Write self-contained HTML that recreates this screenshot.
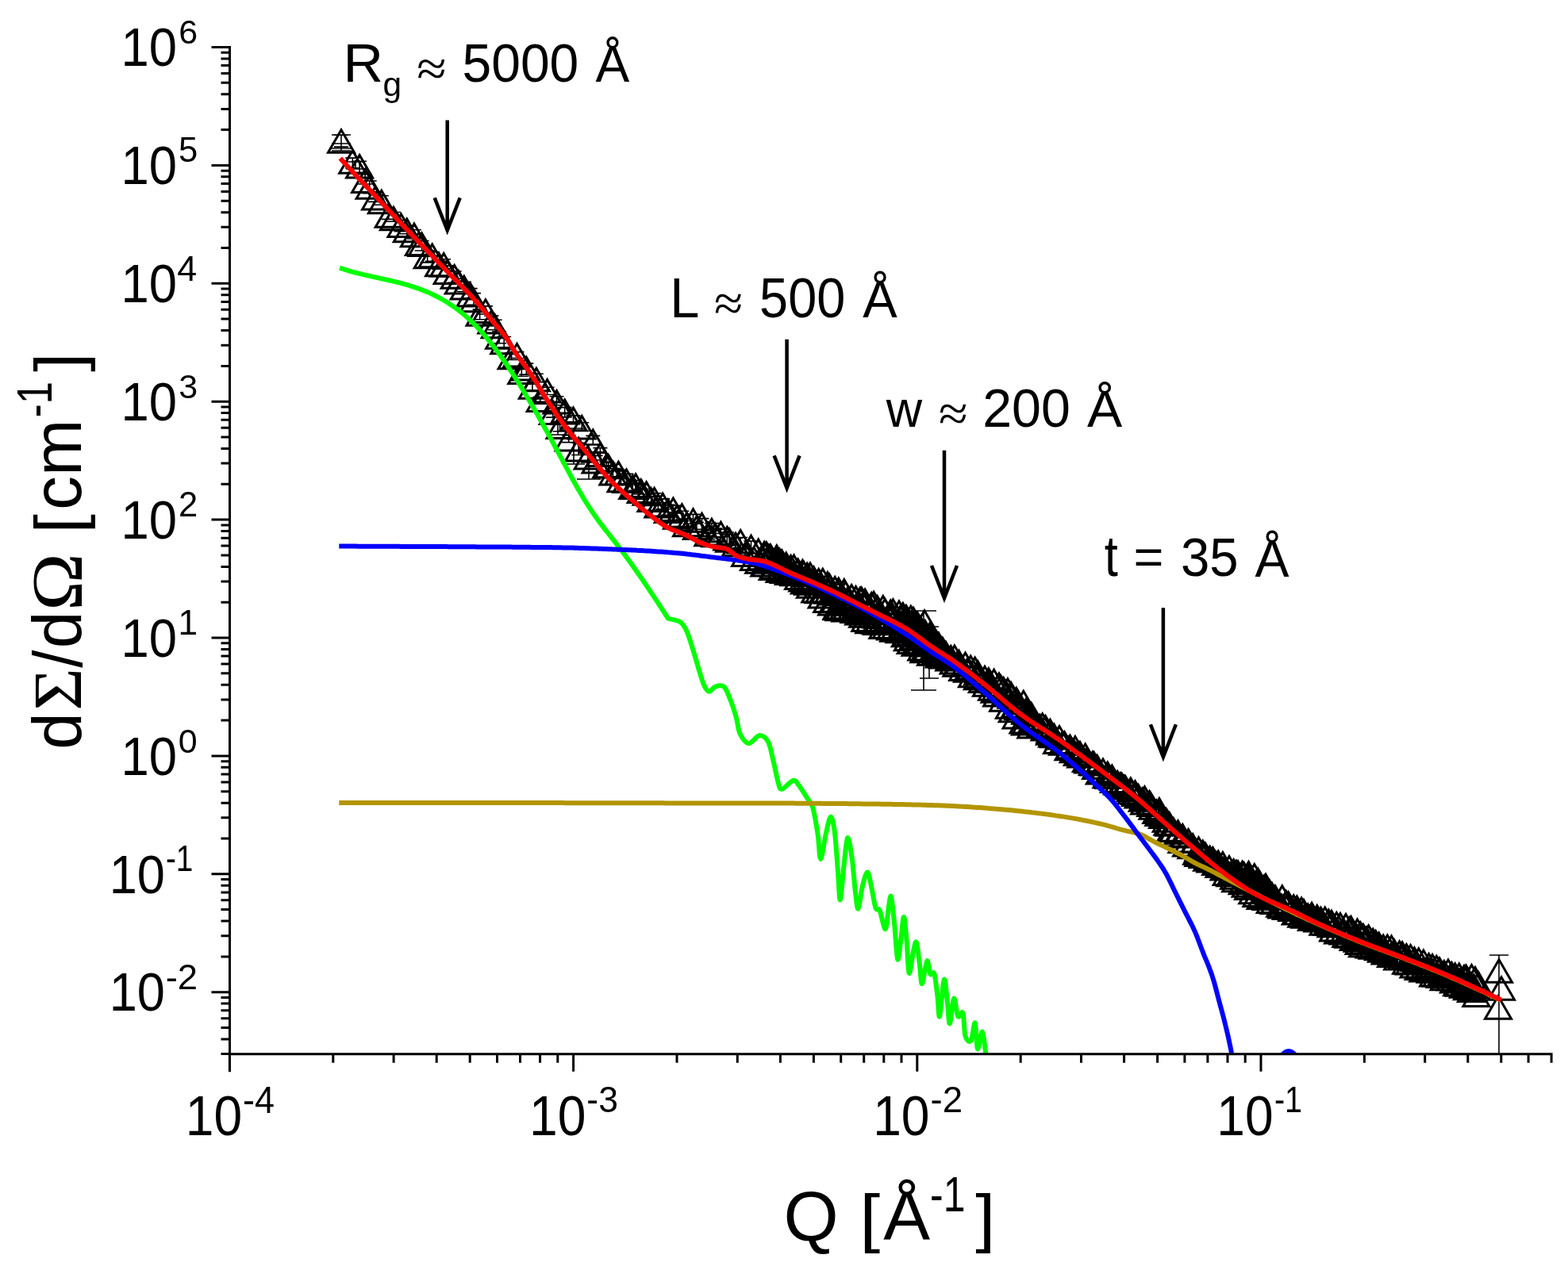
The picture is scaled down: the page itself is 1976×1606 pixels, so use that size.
<!DOCTYPE html><html><head><meta charset="utf-8"><style>html,body{margin:0;padding:0;background:#fff;overflow:hidden}svg{display:block}text{font-family:"Liberation Sans",Arial,sans-serif;fill:#000}</style></head><body>
<svg xmlns="http://www.w3.org/2000/svg" width="1976" height="1606" viewBox="0 0 1976 1606">
<rect width="1976" height="1606" fill="#fff"/>
<defs><clipPath id="pc"><rect x="289.5" y="40" width="1665.6" height="1287.8"/></clipPath></defs>
<g clip-path="url(#pc)"><path d="M430 170V187M418 170h24M418 187h24M430 181V190M418 181h24M418 190h24M448 204V213M436 204h24M436 213h24M703 526V548M689 526h28M689 548h28M723 540V585M709 540h28M709 585h28M742 560V604M727 560h30M727 604h30M1164 770V870M1148 770h32M1148 870h32M1171 790V855M1159 790h24M1159 855h24M1889 1204V1345M1877 1204h24M1877 1345h24M430 170.3V185.1M421 170.3h18M421 185.1h18M444.3 199.1V211.9M435.3 199.1h18M435.3 211.9h18M453.1 203.3V217.6M444.1 203.3h18M444.1 217.6h18M460.1 219.6V232M451.1 219.6h18M451.1 232h18M465.7 228V243.6M456.7 228h18M456.7 243.6h18M473.1 245.3V254.4M464.1 245.3h18M464.1 254.4h18M480.8 246.7V258.3M471.8 246.7h18M471.8 258.3h18M489.7 263.5V276.4M480.7 263.5h18M480.7 276.4h18M496 267.5V279.3M487 267.5h18M487 279.3h18M505.5 277.7V291.8M496.5 277.7h18M496.5 291.8h18M512.8 285.4V294.7M503.8 285.4h18M503.8 294.7h18M521.9 289.8V301M512.9 289.8h18M512.9 301h18M527.9 303V311.1M518.9 303h18M518.9 311.1h18M531.6 303.5V316M522.6 303.5h18M522.6 316h18M538.7 316V330.9M529.7 316h18M529.7 330.9h18M544.7 317.6V329.3M535.7 317.6h18M535.7 329.3h18M553.1 329V339.2M544.1 329h18M544.1 339.2h18M559.2 326.7V338.7M550.2 326.7h18M550.2 338.7h18M563.7 334.9V349M554.7 334.9h18M554.7 349h18M572.7 342V356.3M563.7 342h18M563.7 356.3h18M577.8 351.3V363.8M568.8 351.3h18M568.8 363.8h18M584.8 355.4V367.5M575.8 355.4h18M575.8 367.5h18M592.7 363.6V375.9M583.7 363.6h18M583.7 375.9h18M597 369.6V384.4M588 369.6h18M588 384.4h18M604.6 390.1V402.8M595.6 390.1h18M595.6 402.8h18M611.9 385.9V396M602.9 385.9h18M602.9 396h18M619.4 398.1V409.1M610.4 398.1h18M610.4 409.1h18M623.7 403.3V415.7M614.7 403.3h18M614.7 415.7h18M629.1 417.7V432.8M620.1 417.7h18M620.1 432.8h18M635.2 424.5V437.8M626.2 424.5h18M626.2 437.8h18M644.6 445V453.5M635.6 445h18M635.6 453.5h18M651.5 443.6V451.5M642.5 443.6h18M642.5 451.5h18M657.3 462V474.3M648.3 462h18M648.3 474.3h18M663.3 458.1V472.1M654.3 458.1h18M654.3 472.1h18M670.9 483.2V492M661.9 483.2h18M661.9 492h18M675.9 471.2V481.6M666.9 471.2h18M666.9 481.6h18M680.7 500.3V509.1M671.7 500.3h18M671.7 509.1h18M689.6 488.2V497.5M680.6 488.2h18M680.6 497.5h18M696.8 515.2V526.3M687.8 515.2h18M687.8 526.3h18M701.5 499.8V510.7M692.5 499.8h18M692.5 510.7h18M705.6 531.2V543.7M696.6 531.2h18M696.6 543.7h18M711.7 513.6V525.9M702.7 513.6h18M702.7 525.9h18M716.7 548.6V557.6M707.7 548.6h18M707.7 557.6h18M722.5 523.9V534.6M713.5 523.9h18M713.5 534.6h18M729.1 558.3V573.5M720.1 558.3h18M720.1 573.5h18M733.3 532.8V543.2M724.3 532.8h18M724.3 543.2h18M740.7 572.6V582.9M731.7 572.6h18M731.7 582.9h18M747.3 549.4V560.9M738.3 549.4h18M738.3 560.9h18M750.6 574.4V586.8M741.6 574.4h18M741.6 586.8h18M756.4 564.6V580M747.4 564.6h18M747.4 580h18M764.3 582.1V594.9M755.3 582.1h18M755.3 594.9h18M766.7 583.5V593.4M757.7 583.5h18M757.7 593.4h18M772.4 590.6V600.8M763.4 590.6h18M763.4 600.8h18M779.4 592.2V603.4M770.4 592.2h18M770.4 603.4h18M782.5 601.4V611.2M773.5 601.4h18M773.5 611.2h18M789.5 597.4V609.9M780.5 597.4h18M780.5 609.9h18M797.3 609.3V620.4M788.3 609.3h18M788.3 620.4h18M801.1 605.6V618.3M792.1 605.6h18M792.1 618.3h18M807.7 611.1V623M798.7 611.1h18M798.7 623h18M814.6 616.5V626.5M805.6 616.5h18M805.6 626.5h18M820.5 625.9V637.5M811.5 625.9h18M811.5 637.5h18M824.6 621.7V636.2M815.6 621.7h18M815.6 636.2h18M829.4 633.6V644.9M820.4 633.6h18M820.4 644.9h18M835.2 628.9V641.9M826.2 628.9h18M826.2 641.9h18M841.8 636.4V649.3M832.8 636.4h18M832.8 649.3h18M848.4 637.2V645.8M839.4 637.2h18M839.4 645.8h18M853 646.9V655.2M844 646.9h18M844 655.2h18M859.4 644.3V656.7M850.4 644.3h18M850.4 656.7h18M865.1 654V668.7M856.1 654h18M856.1 668.7h18M873.5 648.4V660.3M864.5 648.4h18M864.5 660.3h18M878 658.5V670.5M869 658.5h18M869 670.5h18M884.5 653.6V667.2M875.5 653.6h18M875.5 667.2h18M892.4 668.1V679.7M883.4 668.1h18M883.4 679.7h18M896.9 659.6V672.5M887.9 659.6h18M887.9 672.5h18M901.3 666.1V677.5M892.3 666.1h18M892.3 677.5h18M908.4 667.3V676.8M899.4 667.3h18M899.4 676.8h18M916.3 671V686.4M907.3 671h18M907.3 686.4h18M919.1 673.3V685.6M910.1 673.3h18M910.1 685.6h18M927.1 678.1V691.1M918.1 678.1h18M918.1 691.1h18M933.2 677.5V690.2M924.2 677.5h18M924.2 690.2h18M939.1 692V705.6M930.1 692h18M930.1 705.6h18M946.5 682.1V697.4M937.5 682.1h18M937.5 697.4h18" fill="none" stroke="#000" stroke-width="1.6"/></g>
<path d="M430 163.7L446.5 192.3H413.5ZM444.3 189.7L460.8 218.3H427.8ZM453.1 195.5L469.6 224.1H436.6ZM460.1 213.8L476.6 242.4H443.6ZM465.7 221.7L482.2 250.3H449.2ZM473.1 235.3L489.6 263.9H456.6ZM480.8 240.2L497.3 268.8H464.3ZM489.7 257.7L506.2 286.3H473.2ZM496 261.3L512.5 289.8H479.5ZM505.5 269.9L522 298.5H489ZM512.8 276.1L529.3 304.7H496.3ZM521.9 282.1L538.4 310.7H505.4ZM527.9 292.9L544.4 321.5H511.4ZM531.6 294L548.1 322.6H515.1ZM538.7 309.2L555.2 337.7H522.2ZM544.7 308.1L561.2 336.7H528.2ZM553.1 319.3L569.6 347.8H536.6ZM559.2 319.6L575.7 348.2H542.7ZM563.7 329L580.2 357.6H547.2ZM572.7 334.6L589.2 363.2H556.2ZM577.8 341.6L594.3 370.1H561.3ZM584.8 348.3L601.3 376.9H568.3ZM592.7 357.3L609.2 385.9H576.2ZM597 364.3L613.5 392.8H580.5ZM604.6 381.6L621.1 410.2H588.1ZM611.9 377.8L628.4 406.4H595.4ZM619.4 391.6L635.9 420.1H602.9ZM623.7 397.1L640.2 425.7H607.2ZM629.1 410.6L645.6 439.2H612.6ZM635.2 417.2L651.7 445.8H618.7ZM644.6 436.2L661.1 464.8H628.1ZM651.5 433.5L668 462.1H635ZM657.3 454.8L673.8 483.4H640.8ZM663.3 450.3L679.8 478.9H646.8ZM670.9 473.6L687.4 502.2H654.4ZM675.9 464.2L692.4 492.7H659.4ZM680.7 490.1L697.2 518.6H664.2ZM689.6 478.5L706.1 507.1H673.1ZM696.8 506.1L713.3 534.6H680.3ZM701.5 492.4L718 521H685ZM705.6 524L722.1 552.6H689.1ZM711.7 504L728.2 532.5H695.2ZM716.7 539.6L733.2 568.1H700.2ZM722.5 514.1L739 542.7H706ZM729.1 552.3L745.6 580.9H712.6ZM733.3 524.5L749.8 553.1H716.8ZM740.7 562.4L757.2 591H724.2ZM747.3 541.9L763.8 570.5H730.8ZM750.6 567.3L767.1 595.9H734.1ZM756.4 559L772.9 587.6H739.9ZM764.3 573.1L780.8 601.7H747.8ZM766.7 573.4L783.2 602H750.2ZM772.4 582.3L788.9 610.9H755.9ZM779.4 582.2L795.9 610.8H762.9ZM782.5 591.2L799 619.7H766ZM789.5 591.9L806 620.4H773ZM797.3 600L813.8 628.6H780.8ZM801.1 597.8L817.6 626.4H784.6ZM807.7 604.8L824.2 633.4H791.2ZM814.6 607.7L831.1 636.3H798.1ZM820.5 615.8L837 644.4H804ZM824.6 615.3L841.1 643.9H808.1ZM829.4 623.4L845.9 651.9H812.9ZM835.2 622.3L851.7 650.9H818.7ZM841.8 629.8L858.3 658.4H825.3ZM848.4 628L864.9 656.6H831.9ZM853 637.7L869.5 666.3H836.5ZM859.4 635.7L875.9 664.2H842.9ZM865.1 647.2L881.6 675.7H848.6ZM873.5 641.7L890 670.3H857ZM878 651L894.5 679.6H861.5ZM884.5 647.3L901 675.9H868ZM892.4 659.2L908.9 687.8H875.9ZM896.9 654.2L913.4 682.7H880.4ZM901.3 660.2L917.8 688.8H884.8ZM908.4 658.3L924.9 686.9H891.9ZM916.3 664.4L932.8 693H899.8ZM919.1 666.7L935.6 695.3H902.6ZM927.1 672.2L943.6 700.8H910.6ZM933.2 668.4L949.7 697H916.7ZM939.1 684.8L955.6 713.4H922.6ZM946.5 675.2L963 703.8H930ZM950 689.9L966.5 718.4H933.5ZM955.7 680.1L972.2 708.7H939.2ZM959.6 689.1L976.1 717.7H943.1ZM956.3 693.7L972.8 722.3H939.8ZM963.2 683.2L979.7 711.8H946.7ZM965.9 691.4L982.4 719.9H949.4ZM963.3 697.5L979.8 726.1H946.8ZM965.9 683.7L982.4 712.2H949.4ZM968.9 687.2L985.4 715.8H952.4ZM965.1 697.5L981.6 726.1H948.6ZM971 686.7L987.5 715.3H954.5ZM976.3 692.6L992.8 721.2H959.8ZM973.7 702.1L990.2 730.6H957.2ZM978.8 687.8L995.3 716.3H962.3ZM978.4 692.9L994.9 721.5H961.9ZM975.8 700.7L992.3 729.3H959.3ZM982.5 692.3L999 720.8H966ZM985.9 697L1002.4 725.6H969.4ZM982.6 704.8L999.1 733.4H966.1ZM985.3 693.8L1001.8 722.4H968.8ZM991.1 701.8L1007.6 730.4H974.6ZM988 705.8L1004.5 734.4H971.5ZM990.7 697.1L1007.2 725.6H974.2ZM993.8 704.5L1010.3 733H977.3ZM993.9 707.8L1010.4 736.4H977.4ZM996.6 700.4L1013.1 729H980.1ZM1000.4 709.2L1016.9 737.8H983.9ZM1000.5 699.9L1017 728.5H984ZM1006.1 714.1L1022.6 742.6H989.6ZM1005.6 705.1L1022.1 733.7H989.1ZM1011.4 716.3L1027.9 744.9H994.9ZM1011.4 706.3L1027.9 734.9H994.9ZM1013 708.6L1029.5 737.1H996.5ZM1013.9 719.4L1030.4 748H997.4ZM1017.1 710.2L1033.6 738.7H1000.6ZM1019.2 718.1L1035.7 746.7H1002.7ZM1018.3 720.7L1034.8 749.3H1001.8ZM1021 709.9L1037.5 738.5H1004.5ZM1023.5 718.5L1040 747.1H1007ZM1021 724.6L1037.5 753.2H1004.5ZM1025.5 714.7L1042 743.3H1009ZM1028.9 720.6L1045.4 749.1H1012.4ZM1027.3 730.3L1043.8 758.9H1010.8ZM1031.7 717.5L1048.2 746.1H1015.2ZM1034.5 724.7L1051 753.3H1018ZM1032.1 731.2L1048.6 759.8H1015.6ZM1036.8 717.3L1053.3 745.9H1020.3ZM1037.5 730.4L1054 759H1021ZM1035.7 737.4L1052.2 766H1019.2ZM1042.9 721.5L1059.4 750.1H1026.4ZM1043.8 731.7L1060.3 760.3H1027.3ZM1042.2 743L1058.7 771.6H1025.7ZM1045.4 724.2L1061.9 752.8H1028.9ZM1048.5 733.3L1065 761.9H1032ZM1048.1 746.3L1064.6 774.9H1031.6ZM1052.2 727.5L1068.7 756.1H1035.7ZM1056.1 734.1L1072.6 762.6H1039.6ZM1052.5 742.6L1069 771.2H1036ZM1054.5 751.4L1071 780H1038ZM1056.8 729.1L1073.3 757.7H1040.3ZM1059.4 743.9L1075.9 772.4H1042.9ZM1057.8 753.2L1074.3 781.8H1041.3ZM1063.8 730.5L1080.3 759.1H1047.3ZM1064.7 745.6L1081.2 774.2H1048.2ZM1063.4 751.3L1079.9 779.8H1046.9ZM1065.5 733.7L1082 762.3H1049ZM1067.8 741.7L1084.3 770.3H1051.3ZM1065.3 754.4L1081.8 783H1048.8ZM1073.1 737.4L1089.6 766H1056.6ZM1073.1 747L1089.6 775.6H1056.6ZM1072.6 753.3L1089.1 781.9H1056.1ZM1078.5 739.6L1095 768.2H1062ZM1078.4 750.5L1094.9 779.1H1061.9ZM1076.6 755.9L1093.1 784.5H1060.1ZM1084 741L1100.5 769.6H1067.5ZM1083.1 748.8L1099.6 777.4H1066.6ZM1082.1 758.3L1098.6 786.9H1065.6ZM1085.8 740.9L1102.3 769.4H1069.3ZM1090.4 747.9L1106.9 776.5H1073.9ZM1087.2 761.8L1103.7 790.3H1070.7ZM1090.1 743L1106.6 771.5H1073.6ZM1095 754.4L1111.5 783H1078.5ZM1090.3 766.9L1106.8 795.5H1073.8ZM1098.2 747.6L1114.7 776.1H1081.7ZM1097.9 755L1114.4 783.5H1081.4ZM1095.2 769.1L1111.7 797.7H1078.7ZM1101.1 746.3L1117.6 774.8H1084.6ZM1104.2 762.5L1120.7 791.1H1087.7ZM1103.3 769.8L1119.8 798.3H1086.8ZM1105.6 751.5L1122.1 780H1089.1ZM1109.8 762.8L1126.3 791.4H1093.3ZM1105.4 770.9L1121.9 799.5H1088.9ZM1112.8 751.5L1129.3 780.1H1096.3ZM1112.8 766.7L1129.3 795.3H1096.3ZM1112.5 775.8L1129 804.4H1096ZM1115.3 755.2L1131.8 783.8H1098.8ZM1117.8 768.1L1134.3 796.6H1101.3ZM1116.8 775.9L1133.3 804.5H1100.3ZM1122.2 757.1L1138.7 785.7H1105.7ZM1123.6 764L1140.1 792.6H1107.1ZM1122.1 777.4L1138.6 806H1105.6ZM1125.4 755.7L1141.9 784.3H1108.9ZM1127.7 766.4L1144.2 795H1111.2ZM1126.2 779.7L1142.7 808.2H1109.7ZM1133 757.9L1149.5 786.5H1116.5ZM1134.5 764.3L1151 792.9H1118ZM1131.4 771.1L1147.9 799.7H1114.9ZM1133.5 781.1L1150 809.7H1117ZM1137.9 760.6L1154.4 789.2H1121.4ZM1138.3 768.9L1154.8 797.5H1121.8ZM1138.7 774.6L1155.2 803.2H1122.2ZM1140.8 786.2L1157.3 814.8H1124.3ZM1142 763.4L1158.5 792H1125.5ZM1144.1 771.4L1160.6 800H1127.6ZM1142.8 784.5L1159.3 813.1H1126.3ZM1143.9 791.2L1160.4 819.8H1127.4ZM1147.8 764.3L1164.3 792.9H1131.3ZM1149.1 772.6L1165.6 801.2H1132.6ZM1145.2 780.9L1161.7 809.5H1128.7ZM1147.8 794.9L1164.3 823.5H1131.3ZM1151 766.2L1167.5 794.7H1134.5ZM1152.8 780.6L1169.3 809.2H1136.3ZM1153.5 789.6L1170 818.2H1137ZM1153.6 797.6L1170.1 826.2H1137.1ZM1156.2 772.3L1172.7 800.9H1139.7ZM1158.1 782.3L1174.6 810.9H1141.6ZM1156.1 796.7L1172.6 825.3H1139.6ZM1161.4 803.5L1177.9 832H1144.9ZM1161 779.4L1177.5 807.9H1144.5ZM1163.7 785.9L1180.2 814.5H1147.2ZM1160 795.7L1176.5 824.3H1143.5ZM1164.4 806.3L1180.9 834.8H1147.9ZM1165.8 782.5L1182.3 811.1H1149.3ZM1167.5 789L1184 817.6H1151ZM1165.4 798.5L1181.9 827.1H1148.9ZM1167.7 805.8L1184.2 834.3H1151.2ZM1171.2 786.4L1187.7 815H1154.7ZM1174.8 798.5L1191.3 827.1H1158.3ZM1173 809.7L1189.5 838.3H1156.5ZM1177.9 794L1194.4 822.6H1161.4ZM1179.1 800.1L1195.6 828.7H1162.6ZM1178.9 809.1L1195.4 837.7H1162.4ZM1182.9 798.1L1199.4 826.7H1166.4ZM1182.7 807.4L1199.2 836H1166.2ZM1183.6 812.4L1200.1 841H1167.1ZM1187.9 804.2L1204.4 832.7H1171.4ZM1188.1 813.4L1204.6 842H1171.6ZM1192 809.6L1208.5 838.2H1175.5ZM1196.2 816.4L1212.7 844.9H1179.7ZM1198.3 814.4L1214.8 843H1181.8ZM1201.7 820.4L1218.2 849H1185.2ZM1202.9 814L1219.4 842.6H1186.4ZM1205.5 823.7L1222 852.3H1189ZM1208.4 820.3L1224.9 848.9H1191.9ZM1213.2 829L1229.7 857.6H1196.7ZM1216.5 823L1233 851.5H1200ZM1219 830.7L1235.5 859.3H1202.5ZM1223.2 827.1L1239.7 855.7H1206.7ZM1225 837.1L1241.5 865.7H1208.5ZM1228.6 829.1L1245.1 857.7H1212.1ZM1231.9 840.1L1248.4 868.7H1215.4ZM1232.3 833.8L1248.8 862.4H1215.8ZM1237.9 844L1254.4 872.5H1221.4ZM1241 840.3L1257.5 868.9H1224.5ZM1243 848.7L1259.5 877.3H1226.5ZM1245.9 842.8L1262.4 871.4H1229.4ZM1250.1 853.8L1266.6 882.3H1233.6ZM1252.6 844.3L1269.1 872.9H1236.1ZM1253.6 856.6L1270.1 885.2H1237.1ZM1259 849.1L1275.5 877.6H1242.5ZM1261.3 852.1L1277.8 880.7H1244.8ZM1256.2 861.3L1272.7 889.9H1239.7ZM1264.7 854.5L1281.2 883.1H1248.2ZM1267.7 859.1L1284.2 887.6H1251.2ZM1264.1 867.6L1280.6 896.2H1247.6ZM1269.9 855.7L1286.4 884.3H1253.4ZM1274.6 863.7L1291.1 892.2H1258.1ZM1271.9 876.7L1288.4 905.2H1255.4ZM1274.1 860.5L1290.6 889.1H1257.6ZM1280.3 875.2L1296.8 903.7H1263.8ZM1275.8 881.2L1292.3 909.8H1259.3ZM1280.8 867.2L1297.3 895.8H1264.3ZM1283.8 878L1300.3 906.6H1267.3ZM1280.6 889.4L1297.1 918H1264.1ZM1289.8 871.2L1306.3 899.8H1273.3ZM1292.3 883.7L1308.8 912.3H1275.8ZM1289.5 895.5L1306 924H1273ZM1292.9 881.5L1309.4 910.1H1276.4ZM1296.9 884.8L1313.4 913.4H1280.4ZM1292 897.3L1308.5 925.9H1275.5ZM1299.8 886.4L1316.3 915H1283.3ZM1301.6 892.4L1318.1 920.9H1285.1ZM1299.3 901.4L1315.8 930H1282.8ZM1304 895.5L1320.5 924.1H1287.5ZM1310.4 901.2L1326.9 929.8H1293.9ZM1313.7 899.8L1330.2 928.4H1297.2ZM1316.6 904.6L1333.1 933.1H1300.1ZM1317.5 902.6L1334 931.2H1301ZM1323 909.8L1339.5 938.3H1306.5ZM1323.4 907.2L1339.9 935.7H1306.9ZM1326.1 912.6L1342.6 941.1H1309.6ZM1328.4 913.2L1344.9 941.8H1311.9ZM1332.1 921.1L1348.6 949.6H1315.6ZM1335 915.4L1351.5 944H1318.5ZM1339 922.7L1355.5 951.3H1322.5ZM1341.5 922.7L1358 951.3H1325ZM1346.5 929.2L1363 957.8H1330ZM1348.5 927.2L1365 955.8H1332ZM1352.8 932.2L1369.3 960.8H1336.3ZM1354.9 928.4L1371.4 956.9H1338.4ZM1357.9 935.8L1374.4 964.4H1341.4ZM1361 935.4L1377.5 964H1344.5ZM1362.1 938.4L1378.6 966.9H1345.6ZM1367.7 938.1L1384.2 966.7H1351.2ZM1368.9 943.9L1385.4 972.5H1352.4ZM1371.2 945.3L1387.7 973.9H1354.7ZM1376.9 948L1393.4 976.6H1360.4ZM1378.6 948.4L1395.1 977H1362.1ZM1381.2 952.9L1397.7 981.5H1364.7ZM1382.7 952.6L1399.2 981.2H1366.2ZM1385.8 959.3L1402.3 987.9H1369.3ZM1390 957.1L1406.5 985.7H1373.5ZM1394.6 964.1L1411.1 992.7H1378.1ZM1395.8 961L1412.3 989.6H1379.3ZM1397.8 964.9L1414.3 993.5H1381.3ZM1401.4 965L1417.9 993.6H1384.9ZM1404 970L1420.5 998.5H1387.5ZM1408.3 972.4L1424.8 1001H1391.8ZM1412 974.8L1428.5 1003.4H1395.5ZM1413.7 975.2L1430.2 1003.7H1397.2ZM1416.5 978.1L1433 1006.7H1400ZM1418.2 978.5L1434.7 1007H1401.7ZM1424.9 980.9L1441.4 1009.5H1408.4ZM1426 984.2L1442.5 1012.8H1409.5ZM1430.5 984.8L1447 1013.4H1414ZM1431.1 987L1447.6 1015.6H1414.6ZM1434.6 989.4L1451.1 1018H1418.1ZM1439.8 993.8L1456.3 1022.3H1423.3ZM1442.5 991.7L1459 1020.3H1426ZM1442.1 997.5L1458.6 1026.1H1425.6ZM1448.6 997.5L1465.1 1026.1H1432.1ZM1450.3 999.9L1466.8 1028.5H1433.8ZM1452.6 1003.7L1469.1 1032.2H1436.1ZM1457.3 1009L1473.8 1037.6H1440.8ZM1460.9 1006.6L1477.4 1035.2H1444.4ZM1460.4 1011.8L1476.9 1040.4H1443.9ZM1465.1 1015L1481.6 1043.6H1448.6ZM1469.8 1019.7L1486.3 1048.3H1453.3ZM1471.6 1023.6L1488.1 1052.2H1455.1ZM1473.8 1024.7L1490.3 1053.2H1457.3ZM1475.2 1032L1491.7 1060.5H1458.7ZM1478.9 1031.7L1495.4 1060.3H1462.4ZM1483.6 1038.3L1500.1 1066.9H1467.1ZM1484.5 1034.7L1501 1063.3H1468ZM1489.5 1045.8L1506 1074.4H1473ZM1490.4 1039.6L1506.9 1068.1H1473.9ZM1495.1 1050.4L1511.6 1078.9H1478.6ZM1497.6 1045.5L1514.1 1074.1H1481.1ZM1501.4 1053.1L1517.9 1081.7H1484.9ZM1503.2 1051.7L1519.7 1080.3H1486.7ZM1508.3 1060.6L1524.8 1089.2H1491.8ZM1510.5 1055.8L1527 1084.4H1494ZM1510.4 1062.9L1526.9 1091.5H1493.9ZM1515.8 1059.9L1532.3 1088.5H1499.3ZM1515.7 1064.8L1532.2 1093.4H1499.2ZM1519 1063.1L1535.5 1091.6H1502.5ZM1521.2 1068.6L1537.7 1097.2H1504.7ZM1524.7 1067.3L1541.2 1095.9H1508.2ZM1525.4 1070.6L1541.9 1099.1H1508.9ZM1528.4 1068.6L1544.9 1097.1H1511.9ZM1532.2 1074.1L1548.7 1102.6H1515.7ZM1535.2 1073.1L1551.7 1101.7H1518.7ZM1536.5 1076.9L1553 1105.5H1520ZM1540.9 1074.6L1557.4 1103.2H1524.4ZM1542.8 1080.5L1559.3 1109.1H1526.3ZM1542.9 1079.7L1559.4 1108.3H1526.4ZM1545.7 1086.9L1562.2 1115.5H1529.2ZM1549 1079.4L1565.5 1108H1532.5ZM1550.4 1088.2L1566.9 1116.8H1533.9ZM1554.7 1083.8L1571.2 1112.4H1538.2ZM1555.1 1091.6L1571.6 1120.2H1538.6ZM1557.9 1085.2L1574.4 1113.8H1541.4ZM1560.1 1085.8L1576.6 1114.4H1543.6ZM1557.2 1095.1L1573.7 1123.7H1540.7ZM1565.6 1086.2L1582.1 1114.7H1549.1ZM1567.4 1095.7L1583.9 1124.3H1550.9ZM1565.7 1098.2L1582.2 1126.8H1549.2ZM1567.7 1087.7L1584.2 1116.3H1551.2ZM1572.5 1090.4L1589 1118.9H1556ZM1569.7 1101.8L1586.2 1130.3H1553.2ZM1573.5 1086.6L1590 1115.2H1557ZM1575.2 1092.5L1591.7 1121H1558.7ZM1573.1 1105L1589.6 1133.6H1556.6ZM1580.8 1089.6L1597.3 1118.2H1564.3ZM1583.4 1097.7L1599.9 1126.3H1566.9ZM1578.4 1110.2L1594.9 1138.8H1561.9ZM1585.3 1095.2L1601.8 1123.8H1568.8ZM1584.7 1103.7L1601.2 1132.2H1568.2ZM1583.5 1113.9L1600 1142.5H1567ZM1587.8 1099.2L1604.3 1127.8H1571.3ZM1593.1 1103.9L1609.6 1132.5H1576.6ZM1588.6 1116.9L1605.1 1145.4H1572.1ZM1595.1 1102.3L1611.6 1130.9H1578.6ZM1594.6 1108L1611.1 1136.6H1578.1ZM1595.7 1118L1612.2 1146.6H1579.2ZM1600 1110L1616.5 1138.6H1583.5ZM1600.9 1113.1L1617.4 1141.7H1584.4ZM1600.8 1122L1617.3 1150.5H1584.3ZM1603 1113.5L1619.5 1142.1H1586.5ZM1605.8 1122.9L1622.3 1151.5H1589.3ZM1607 1116.7L1623.5 1145.3H1590.5ZM1613.2 1126.7L1629.7 1155.3H1596.7ZM1615.8 1116.8L1632.3 1145.4H1599.3ZM1615.4 1128.4L1631.9 1157H1598.9ZM1620.8 1123.5L1637.3 1152.1H1604.3ZM1621 1129.9L1637.5 1158.4H1604.5ZM1623.7 1124.7L1640.2 1153.3H1607.2ZM1628.2 1131.9L1644.7 1160.5H1611.7ZM1630.2 1128.7L1646.7 1157.2H1613.7ZM1632.8 1136.5L1649.3 1165.1H1616.3ZM1634.4 1130L1650.9 1158.6H1617.9ZM1635.8 1136.5L1652.3 1165.1H1619.3ZM1640.1 1132L1656.6 1160.6H1623.6ZM1640.3 1139.8L1656.8 1168.3H1623.8ZM1643 1134.6L1659.5 1163.1H1626.5ZM1644.6 1140.6L1661.1 1169.2H1628.1ZM1648.3 1140L1664.8 1168.6H1631.8ZM1653 1144.1L1669.5 1172.6H1636.5ZM1653.1 1138.2L1669.6 1166.8H1636.6ZM1654.9 1143.8L1671.4 1172.4H1638.4ZM1659.8 1141.4L1676.3 1170H1643.3ZM1660.4 1145.5L1676.9 1174.1H1643.9ZM1664.5 1144.2L1681 1172.8H1648ZM1667.5 1149.7L1684 1178.3H1651ZM1669.7 1144L1686.2 1172.5H1653.2ZM1672.9 1150L1689.4 1178.5H1656.4ZM1674.3 1146.9L1690.8 1175.5H1657.8ZM1677.5 1152.1L1694 1180.7H1661ZM1678 1148.3L1694.5 1176.9H1661.5ZM1680.1 1157.3L1696.6 1185.9H1663.6ZM1684.3 1150.5L1700.8 1179.1H1667.8ZM1686.1 1160.3L1702.6 1188.9H1669.6ZM1689 1151.5L1705.5 1180.1H1672.5ZM1692.7 1161.5L1709.2 1190H1676.2ZM1696 1152.4L1712.5 1181H1679.5ZM1696.4 1164.8L1712.9 1193.4H1679.9ZM1700.4 1157L1716.9 1185.6H1683.9ZM1699.7 1165.6L1716.2 1194.2H1683.2ZM1702.5 1155.5L1719 1184.1H1686ZM1708.4 1163.7L1724.9 1192.3H1691.9ZM1705.7 1168.8L1722.2 1197.4H1689.2ZM1710.5 1159.1L1727 1187.7H1694ZM1710.5 1168L1727 1196.6H1694ZM1710.8 1170.6L1727.3 1199.2H1694.3ZM1714.4 1162.7L1730.9 1191.3H1697.9ZM1715.4 1167.6L1731.9 1196.2H1698.9ZM1712.6 1173.9L1729.1 1202.5H1696.1ZM1718 1165.5L1734.5 1194.1H1701.5ZM1722.1 1169.1L1738.6 1197.7H1705.6ZM1717 1177.2L1733.5 1205.7H1700.5ZM1724.7 1166.8L1741.2 1195.4H1708.2ZM1725.7 1178.3L1742.2 1206.9H1709.2ZM1730.2 1171.2L1746.7 1199.7H1713.7ZM1729.8 1179.6L1746.3 1208.2H1713.3ZM1733.6 1173.4L1750.1 1201.9H1717.1ZM1737.1 1181.2L1753.6 1209.8H1720.6ZM1737.7 1176L1754.2 1204.5H1721.2ZM1741.1 1183.6L1757.6 1212.2H1724.6ZM1743.2 1179L1759.7 1207.6H1726.7ZM1745.7 1186.4L1762.2 1215H1729.2ZM1748.4 1178.9L1764.9 1207.5H1731.9ZM1753 1189.8L1769.5 1218.4H1736.5ZM1753.5 1180L1770 1208.6H1737ZM1757.4 1188.7L1773.9 1217.2H1740.9ZM1757 1184.9L1773.5 1213.5H1740.5ZM1761.2 1193.5L1777.7 1222.1H1744.7ZM1763.6 1186.8L1780.1 1215.4H1747.1ZM1766.3 1193.2L1782.8 1221.8H1749.8ZM1767.1 1187.8L1783.6 1216.4H1750.6ZM1772.1 1198.6L1788.6 1227.2H1755.6ZM1772.4 1190.5L1788.9 1219.1H1755.9ZM1776 1199.3L1792.5 1227.9H1759.5ZM1777.6 1191.6L1794.1 1220.1H1761.1ZM1781.6 1203.4L1798.1 1231.9H1765.1ZM1782.4 1194.8L1798.9 1223.4H1765.9ZM1787.7 1205.9L1804.2 1234.5H1771.2ZM1787.8 1195.8L1804.3 1224.4H1771.3ZM1793.3 1208.3L1809.8 1236.9H1776.8ZM1793.9 1197.9L1810.4 1226.5H1777.4ZM1798.2 1208.3L1814.7 1236.9H1781.7ZM1800.6 1202.6L1817.1 1231.2H1784.1ZM1802.8 1209.8L1819.3 1238.3H1786.3ZM1805.1 1203.4L1821.6 1232H1788.6ZM1806.1 1214.6L1822.6 1243.1H1789.6ZM1810.3 1205.2L1826.8 1233.7H1793.8ZM1810.4 1214.7L1826.9 1243.3H1793.9ZM1814.1 1207.7L1830.6 1236.3H1797.6ZM1815 1216.1L1831.5 1244.6H1798.5ZM1819.9 1211.5L1836.4 1240.1H1803.4ZM1819.7 1219.3L1836.2 1247.8H1803.2ZM1825 1209.9L1841.5 1238.4H1808.5ZM1827.9 1219.4L1844.4 1248H1811.4ZM1829.4 1213.6L1845.9 1242.2H1812.9ZM1832 1222.4L1848.5 1251H1815.5ZM1833.7 1214.7L1850.2 1243.3H1817.2ZM1836.2 1226.1L1852.7 1254.7H1819.7ZM1838.8 1215.1L1855.3 1243.6H1822.3ZM1839.6 1222.5L1856.1 1251H1823.1ZM1839 1226.7L1855.5 1255.2H1822.5ZM1845.1 1217.4L1861.6 1246H1828.6ZM1846.3 1220.7L1862.8 1249.3H1829.8ZM1843.9 1228.7L1860.4 1257.3H1827.4ZM1847.5 1216.9L1864 1245.5H1831ZM1849.9 1224.6L1866.4 1253.2H1833.4ZM1849 1231.1L1865.5 1259.7H1832.5ZM1854.5 1216.5L1871 1245.1H1838ZM1857.4 1229.1L1873.9 1257.7H1840.9ZM1854 1233.9L1870.5 1262.4H1837.5ZM1859 1219.6L1875.5 1248.2H1842.5ZM1863.3 1226.1L1879.8 1254.7H1846.8ZM1860.4 1239.9L1876.9 1268.5H1843.9ZM1889 1209.7L1905.5 1238.3H1872.5ZM1892 1231.7L1908.5 1260.3H1875.5ZM1888 1255.7L1904.5 1284.3H1871.5ZM1165 769.7L1181.5 798.3H1148.5ZM1055 752.2L1071.5 780.8H1038.5ZM1172 785.7L1188.5 814.3H1155.5Z" fill="none" stroke="#000" stroke-width="3.0" stroke-linejoin="miter"/>
<g clip-path="url(#pc)" fill="none" stroke-width="6" stroke-linejoin="round" stroke-linecap="butt">
<path d="M428,337.7 L431,338.7 L434,339.7 L437,340.6 L440,341.5 L443,342.3 L446,343.2 L449,344 L452,344.7 L455,345.4 L458,346.2 L461,346.9 L464,347.5 L467,348.2 L470,348.9 L473,349.5 L476,350.2 L479,350.9 L482,351.5 L485,352.2 L488,352.8 L491,353.5 L494,354.2 L497,354.9 L500,355.7 L503,356.4 L506,357.2 L509,358 L512,358.9 L515,359.7 L518,360.6 L521,361.6 L524,362.6 L527,363.6 L530,364.7 L533,365.9 L536,367.1 L539,368.3 L542,369.6 L545,371 L548,372.5 L551,374 L554,375.6 L557,377.2 L560,379 L563,380.8 L566,382.7 L569,384.7 L572,386.7 L575,388.9 L578,391.2 L581,393.5 L584,396 L587,398.5 L590,401.2 L593,404 L596,406.9 L599,409.9 L602,413 L605,416.2 L608,419.6 L611,423.1 L614,426.6 L617,430.3 L620,434.1 L623,438 L626,442 L629,446 L632,450.2 L635,454.5 L638,458.8 L641,463.3 L644,467.8 L647,472.4 L650,477 L653,481.8 L656,486.6 L659,491.5 L662,496.5 L665,501.5 L668,506.6 L671,511.7 L674,516.9 L677,522.1 L680,527.4 L683,532.8 L686,538.2 L689,543.6 L692,549.1 L695,554.6 L698,560.2 L701,565.7 L704,571.3 L707,576.9 L710,582.6 L713,588.1 L716,593.7 L719,599.2 L722,604.7 L725,610.1 L728,615.4 L731,620.6 L734,625.7 L737,630.7 L740,635.5 L743,640.2 L746,644.7 L749,649.1 L752,653.3 L755,657.4 L758,661.4 L761,665.3 L764,669.2 L767,673 L770,676.8 L773,680.6 L776,684.4 L779,688.3 L782,692.3 L785,696.2 L788,700.3 L791,704.4 L794,708.5 L797,712.7 L800,716.9 L803,721.2 L806,725.5 L809,729.8 L812,734.2 L815,738.6 L818,743.1 L821,747.6 L824,752.1 L827,756.6 L830,761.2 L833,765.8 L836,770.4 L839,775 L842,779.7 L842,779.7C844.5,780.4 853.3,781.5 857.2,784.1C861.1,786.7 862.6,789.7 865.3,795.5C868,801.3 870.7,810.6 873.3,818.9C875.9,827.2 878.8,837.9 881.1,845.4C883.5,852.9 885.3,859.7 887.4,864.1C889.5,868.5 891.3,871.5 893.6,871.8C895.9,872 898.3,866.6 901.4,865.6C904.5,864.6 909.2,863 912.3,865.6C915.4,868.2 917.4,874.7 920,881.2C922.6,887.7 925.7,897.2 927.8,904.5C929.9,911.8 929.9,919.3 932.5,924.8C935.1,930.2 939.2,936.8 943.4,937.2C947.5,937.6 953.2,927.4 957.4,927.1C961.5,926.9 965.4,930.4 968.3,935.7C971.1,941 972.4,950.5 974.5,959C976.6,967.5 979,981 980.8,987C982.6,993 982.3,995.3 985.4,994.8C988.5,994.3 996,984.9 999.4,983.9C1002.8,982.9 1002.6,984.7 1005.7,988.6C1008.8,992.5 1015,1002.4 1018.1,1007.3C1021.2,1012.2 1022.2,1010.9 1024.3,1018.2C1026.4,1025.5 1028.8,1040.3 1030.5,1051.1C1032.2,1061.9 1032.5,1082.9 1034.2,1082.9C1035.9,1082.9 1038.7,1060 1040.8,1051.1C1042.9,1042.2 1045.1,1029.5 1047,1029.5C1048.9,1029.5 1050.6,1038.9 1052.1,1051.1C1053.6,1063.2 1055.1,1088.5 1056.2,1102.4C1057.3,1116.3 1057.7,1136 1058.9,1134.3C1060.1,1132.6 1061.9,1105.2 1063.4,1092.2C1064.9,1079.2 1066.4,1057.9 1068.1,1056.2C1069.8,1054.5 1072.1,1070.8 1073.7,1081.9C1075.3,1093 1076.5,1112.4 1077.8,1123C1079.1,1133.6 1080,1146.6 1081.5,1145.6C1083,1144.6 1085,1124.5 1087,1116.8C1089,1109.1 1091.3,1099.1 1093.2,1099.4C1095.1,1099.8 1096.6,1111.4 1098.3,1118.9C1100,1126.4 1101.8,1139.8 1103.5,1144.6C1105.2,1149.4 1106.5,1143.1 1108.6,1147.6C1110.6,1152 1113.9,1172 1115.8,1171.3C1117.7,1170.6 1118.7,1150.3 1119.9,1143.5C1121.1,1136.7 1121.8,1126.8 1123,1130.2C1124.2,1133.6 1125.7,1150.9 1127.1,1164.1C1128.5,1177.3 1129.8,1205.9 1131.2,1209.3C1132.6,1212.7 1134,1193.5 1135.3,1184.6C1136.6,1175.7 1137.8,1155.9 1139,1155.9C1140.2,1155.9 1141.4,1172.8 1142.5,1184.6C1143.6,1196.4 1144.2,1224 1145.6,1226.7C1147,1229.4 1149.2,1207.5 1150.7,1201C1152.2,1194.5 1153.4,1185.3 1154.8,1187.7C1156.2,1190.1 1157.7,1206.7 1158.9,1215.4C1160.1,1224.1 1160.5,1240.8 1162,1240.1C1163.5,1239.4 1166.5,1213.4 1168.2,1211.3C1169.9,1209.2 1170.8,1225 1172.3,1227.7C1173.8,1230.4 1175.9,1222.9 1177.4,1227.7C1178.9,1232.5 1180.4,1247.6 1181.5,1256.5C1182.6,1265.4 1182.8,1284.8 1184.2,1281.2C1185.6,1277.6 1188.1,1238 1189.7,1234.9C1191.3,1231.8 1192.7,1253.5 1193.9,1262.7C1195.1,1272 1195.5,1291.1 1196.9,1290.4C1198.3,1289.7 1200.4,1260.1 1202.1,1258.6C1203.8,1257.1 1205.3,1278.1 1207.2,1281.2C1209.1,1284.3 1211.9,1272.9 1213.4,1277C1215,1281.1 1214.8,1300 1216.5,1305.8C1218.2,1311.6 1221.5,1314.7 1223.6,1312C1225.6,1309.3 1227.4,1287.7 1228.8,1289.4C1230.2,1291.1 1230.4,1320.3 1231.9,1322.2C1233.4,1324.1 1236.1,1299.1 1238,1300.7C1239.9,1302.3 1241.2,1324.6 1243.2,1332C1245.2,1339.4 1248.9,1342.8 1250,1345" stroke="#00FF00"/>
<path d="M427.3,1011.9L430.3,1011.9 433.3,1011.9 436.3,1011.9 439.3,1011.9 442.3,1011.9 445.3,1011.9 448.3,1011.9 451.3,1011.9 454.3,1011.9 457.3,1011.9 460.3,1011.9 463.3,1011.9 466.3,1011.9 469.3,1011.9 472.3,1011.9 475.3,1011.9 478.3,1011.9 481.3,1011.9 484.3,1011.9 487.3,1011.9 490.3,1011.9 493.3,1011.9 496.3,1011.9 499.3,1011.9 502.3,1011.9 505.3,1011.9 508.3,1011.9 511.3,1011.9 514.3,1011.9 517.3,1011.9 520.3,1011.9 523.3,1011.9 526.3,1011.9 529.3,1011.9 532.3,1011.9 535.3,1011.9 538.3,1012 541.3,1012 544.3,1012 547.3,1012 550.3,1012 553.3,1012 556.3,1012 559.3,1012 562.3,1012 565.3,1012 568.3,1012 571.3,1012 574.3,1012 577.3,1012 580.3,1012 583.3,1012 586.3,1012 589.3,1012 592.3,1012 595.3,1012 598.3,1012 601.3,1012 604.3,1012 607.3,1012 610.3,1012 613.3,1012 616.3,1012 619.3,1012 622.3,1012 625.3,1012 628.3,1012 631.3,1012 634.3,1012 637.3,1012 640.3,1012 643.3,1012 646.3,1012.1 649.3,1012.1 652.3,1012.1 655.3,1012.1 658.3,1012.1 661.3,1012.1 664.3,1012.1 667.3,1012.1 670.3,1012.1 673.3,1012.1 676.3,1012.1 679.3,1012.1 682.3,1012.1 685.3,1012.1 688.3,1012.1 691.3,1012.1 694.3,1012.1 697.3,1012.1 700.3,1012.1 703.3,1012.1 706.3,1012.1 709.3,1012.1 712.3,1012.2 715.3,1012.2 718.3,1012.2 721.3,1012.2 724.3,1012.2 727.3,1012.2 730.3,1012.2 733.3,1012.2 736.3,1012.2 739.3,1012.2 742.3,1012.2 745.3,1012.2 748.3,1012.2 751.3,1012.2 754.3,1012.2 757.3,1012.2 760.3,1012.2 763.3,1012.2 766.3,1012.2 769.3,1012.3 772.3,1012.3 775.3,1012.3 778.3,1012.3 781.3,1012.3 784.3,1012.3 787.3,1012.3 790.3,1012.3 793.4,1012.3 796.4,1012.3 799.4,1012.3 802.4,1012.3 805.4,1012.3 808.4,1012.3 811.4,1012.3 814.4,1012.3 817.4,1012.3 820.4,1012.3 823.4,1012.3 826.4,1012.3 829.4,1012.3 832.4,1012.3 835.4,1012.3 838.4,1012.4 841.4,1012.4 844.4,1012.4 847.4,1012.4 850.4,1012.4 853.4,1012.4 856.4,1012.4 859.4,1012.4 862.4,1012.4 865.4,1012.4 868.4,1012.4 871.4,1012.4 874.4,1012.4 877.4,1012.4 880.4,1012.4 883.4,1012.4 886.4,1012.4 889.4,1012.4 892.4,1012.4 895.4,1012.4 898.4,1012.4 901.4,1012.4 904.4,1012.4 907.4,1012.4 910.4,1012.4 913.4,1012.4 916.4,1012.5 919.4,1012.5 922.4,1012.5 925.4,1012.5 928.4,1012.5 931.4,1012.5 934.4,1012.5 937.4,1012.5 940.4,1012.5 943.4,1012.5 946.4,1012.5 949.4,1012.5 952.4,1012.5 955.4,1012.5 958.4,1012.5 961.4,1012.5 964.4,1012.5 967.4,1012.5 970.4,1012.6 973.4,1012.6 976.4,1012.6 979.4,1012.6 982.4,1012.6 985.4,1012.6 988.4,1012.6 991.4,1012.6 994.4,1012.6 997.4,1012.6 1000.4,1012.6 1003.4,1012.7 1006.4,1012.7 1009.4,1012.7 1012.4,1012.7 1015.4,1012.7 1018.4,1012.7 1021.4,1012.8 1024.4,1012.8 1027.4,1012.8 1030.4,1012.8 1033.4,1012.8 1036.4,1012.9 1039.4,1012.9 1042.4,1012.9 1045.4,1012.9 1048.4,1013 1051.4,1013 1054.4,1013 1057.4,1013 1060.4,1013.1 1063.4,1013.1 1066.4,1013.1 1069.4,1013.2 1072.4,1013.2 1075.4,1013.2 1078.4,1013.3 1081.4,1013.3 1084.4,1013.3 1087.4,1013.4 1090.4,1013.4 1093.4,1013.4 1096.4,1013.5 1099.4,1013.5 1102.4,1013.5 1105.4,1013.6 1108.4,1013.6 1111.4,1013.7 1114.4,1013.7 1117.4,1013.7 1120.4,1013.8 1123.4,1013.8 1126.4,1013.9 1129.4,1014 1132.4,1014 1135.4,1014.1 1138.4,1014.1 1141.4,1014.2 1144.4,1014.3 1147.4,1014.3 1150.4,1014.4 1153.4,1014.5 1156.4,1014.6 1159.4,1014.6 1162.4,1014.7 1165.4,1014.8 1168.4,1014.9 1171.4,1015 1174.4,1015.1 1177.4,1015.2 1180.4,1015.3 1183.4,1015.3 1186.4,1015.4 1189.4,1015.5 1192.4,1015.7 1195.4,1015.8 1198.4,1015.9 1201.4,1016.1 1204.4,1016.2 1207.4,1016.4 1210.4,1016.6 1213.4,1016.7 1216.4,1016.9 1219.4,1017.1 1222.4,1017.3 1225.4,1017.5 1228.4,1017.7 1231.4,1017.9 1234.4,1018.1 1237.4,1018.3 1240.4,1018.5 1243.4,1018.7 1246.4,1019 1249.4,1019.2 1252.4,1019.4 1255.4,1019.7 1258.4,1019.9 1261.4,1020.2 1264.4,1020.5 1267.4,1020.8 1270.4,1021 1273.4,1021.3 1276.4,1021.6 1279.4,1021.9 1282.4,1022.2 1285.4,1022.5 1288.4,1022.8 1291.4,1023.2 1294.4,1023.5 1297.4,1023.8 1300.4,1024.2 1303.4,1024.5 1306.4,1024.9 1309.4,1025.2 1312.4,1025.6 1315.4,1026 1318.4,1026.4 1321.4,1026.8 1324.4,1027.2 1327.4,1027.6 1330.4,1028.1 1333.4,1028.5 1336.4,1029 1339.4,1029.4 1342.4,1029.9 1345.4,1030.4 1348.4,1030.9 1351.4,1031.4 1354.4,1031.9 1357.4,1032.4 1360.4,1033 1363.4,1033.6 1366.4,1034.2 1369.4,1034.8 1372.4,1035.4 1375.4,1036 1378.4,1036.6 1381.4,1037.3 1384.4,1038 1387.4,1038.7 1390.4,1039.4 1393.4,1040.2 1396.4,1041 1399.4,1041.9 1402.4,1042.7 1405.4,1043.6 1408.4,1044.5 1411.4,1045.4 1414.4,1046.2 1417.4,1046.9 1420.4,1047.6 1423.4,1048.2 1426.4,1048.9 1429.4,1049.5 1432.4,1050.3 1435.4,1051.1 1438.4,1052.2 1441.4,1053.6 1444.4,1055.4 1447.4,1057.2 1450.4,1058.9 1453.4,1060.4 1456.4,1062 1459.4,1063.5 1462.4,1065 1465.4,1066.4 1468.4,1067.9 1471.4,1069.4 1474.4,1070.8 1477.4,1072.3 1480.4,1073.7 1483.4,1075.2 1486.4,1076.7 1489.4,1078.3 1492.4,1080 1495.4,1081.7 1498.4,1083.5 1501.4,1085.3 1504.4,1087 1507.4,1088.6 1510.4,1090.1 1513.4,1091.5 1516.4,1092.8 1519.4,1094.2 1522.4,1095.7 1525.5,1097.2 1528.5,1098.8 1531.5,1100.4 1534.5,1102 1537.5,1103.6 1540.5,1105.2 1543.5,1106.8 1546.5,1108.3 1549.5,1109.9 1552.5,1111.5 1555.5,1113 1558.5,1114.6 1561.5,1116.2 1564.5,1117.7 1567.5,1119.3 1570.5,1120.8 1573.5,1122.4 1576.5,1123.9 1579.5,1125.5 1582.5,1127 1585.5,1128.5 1588.5,1130.1 1591.5,1131.6 1594.5,1133.1 1597.5,1134.6 1600.5,1136.1 1603.5,1137.6 1606.5,1139.1 1609.5,1140.6 1612.5,1142.1 1615.5,1143.5 1618.5,1145 1621.5,1146.5 1624.5,1147.9 1627.5,1149.3 1630.5,1150.8 1633.5,1152.2 1636.5,1153.6 1639.5,1155 1642.5,1156.4 1645.5,1157.8 1648.5,1159.2 1651.5,1160.5 1654.5,1161.9 1657.5,1163.3 1660.5,1164.6 1663.5,1165.9 1666.5,1167.3 1669.5,1168.6 1672.5,1169.9 1675.5,1171.2 1678.5,1172.5 1681.5,1173.8 1684.5,1175.1 1687.5,1176.3 1690.5,1177.6 1693.5,1178.9 1696.5,1180.1 1699.5,1181.4 1702.5,1182.6 1705.5,1183.8 1708.5,1185.1 1711.5,1186.3 1714.5,1187.5 1717.5,1188.7 1720.5,1189.8 1723.5,1191 1726.5,1192.1 1729.5,1193.3 1732.5,1194.4 1735.5,1195.5 1738.5,1196.6 1741.5,1197.7 1744.5,1198.8 1747.5,1199.9 1750.5,1201 1753.5,1202.1 1756.5,1203.2 1759.5,1204.4 1762.5,1205.5 1765.5,1206.6 1768.5,1207.8 1771.5,1208.9 1774.5,1210.1 1777.5,1211.3 1780.5,1212.4 1783.5,1213.6 1786.5,1214.8 1789.5,1215.9 1792.5,1217.1 1795.5,1218.3 1798.5,1219.5 1801.5,1220.7 1804.5,1221.9 1807.5,1223.1 1810.5,1224.3 1813.5,1225.5 1816.5,1226.8 1819.5,1228 1822.5,1229.3 1825.5,1230.6 1828.5,1231.9 1831.5,1233.2 1834.5,1234.5 1837.5,1235.8 1840.5,1237.1 1843.5,1238.5 1846.5,1239.9 1849.5,1241.2 1852.5,1242.6 1855.5,1244 1858.5,1245.4 1861.5,1246.7 1864.5,1248.1 1867.5,1249.5 1870.5,1250.9 1873.5,1252.3 1876.5,1253.7 1879.5,1255.2 1882.5,1256.6 1885.5,1258 1888.5,1259.5 1891.5,1260.9" stroke="#B39500"/>
<path d="M427.3,688.6L430.3,688.6 433.3,688.6 436.3,688.6 439.3,688.6 442.3,688.6 445.3,688.6 448.3,688.6 451.3,688.7 454.3,688.7 457.3,688.7 460.3,688.7 463.4,688.7 466.4,688.7 469.4,688.7 472.4,688.7 475.4,688.7 478.4,688.7 481.4,688.8 484.4,688.8 487.4,688.8 490.4,688.8 493.4,688.8 496.4,688.8 499.4,688.8 502.4,688.8 505.4,688.9 508.4,688.9 511.4,688.9 514.4,688.9 517.4,688.9 520.4,688.9 523.4,688.9 526.4,689 529.5,689 532.5,689 535.5,689 538.5,689 541.5,689 544.5,689 547.5,689.1 550.5,689.1 553.5,689.1 556.5,689.1 559.5,689.1 562.5,689.1 565.5,689.2 568.5,689.2 571.5,689.2 574.5,689.2 577.5,689.2 580.5,689.2 583.5,689.3 586.5,689.3 589.5,689.3 592.5,689.3 595.6,689.3 598.6,689.3 601.6,689.4 604.6,689.4 607.6,689.4 610.6,689.4 613.6,689.4 616.6,689.4 619.6,689.5 622.6,689.5 625.6,689.5 628.6,689.5 631.6,689.5 634.6,689.6 637.6,689.6 640.6,689.6 643.6,689.6 646.6,689.7 649.6,689.7 652.6,689.7 655.6,689.7 658.6,689.8 661.7,689.8 664.7,689.8 667.7,689.8 670.7,689.9 673.7,689.9 676.7,689.9 679.7,690 682.7,690 685.7,690 688.7,690.1 691.7,690.1 694.7,690.1 697.7,690.2 700.7,690.2 703.7,690.3 706.7,690.3 709.7,690.4 712.7,690.4 715.7,690.5 718.7,690.6 721.7,690.6 724.7,690.7 727.8,690.8 730.8,690.9 733.8,691 736.8,691.1 739.8,691.2 742.8,691.3 745.8,691.4 748.8,691.5 751.8,691.6 754.8,691.7 757.8,691.8 760.8,691.9 763.8,692 766.8,692.2 769.8,692.3 772.8,692.4 775.8,692.5 778.8,692.7 781.8,692.8 784.8,692.9 787.8,693 790.8,693.2 793.9,693.3 796.9,693.5 799.9,693.6 802.9,693.8 805.9,693.9 808.9,694.1 811.9,694.3 814.9,694.4 817.9,694.6 820.9,694.8 823.9,695 826.9,695.2 829.9,695.4 832.9,695.6 835.9,695.8 838.9,696 841.9,696.3 844.9,696.5 847.9,696.7 850.9,697 853.9,697.2 856.9,697.5 860,697.8 863,698.1 866,698.5 869,698.8 872,699.2 875,699.5 878,699.9 881,700.3 884,700.7 887,701 890,701.4 893,701.8 896,702.2 899,702.5 902,702.9 905,703.2 908,703.6 911,703.9 914,704.3 917,704.7 920,705.1 923,705.5 926.1,705.9 929.1,706.3 932.1,706.7 935.1,707.2 938.1,707.7 941.1,708.2 944.1,708.7 947.1,709.3 950.1,709.9 953.1,710.6 956.1,711.4 959.1,712.3 962.1,713.2 965.1,714.1 968.1,715.1 971.1,716.1 974.1,717.2 977.1,718.3 980.1,719.4 983.1,720.5 986.1,721.6 989.1,722.8 992.2,723.9 995.2,725.1 998.2,726.2 1001.2,727.4 1004.2,728.5 1007.2,729.8 1010.2,731 1013.2,732.2 1016.2,733.5 1019.2,734.8 1022.2,736.1 1025.2,737.5 1028.2,738.8 1031.2,740.1 1034.2,741.5 1037.2,742.9 1040.2,744.3 1043.2,745.7 1046.2,747 1049.2,748.4 1052.2,749.9 1055.2,751.3 1058.3,752.7 1061.3,754.2 1064.3,755.6 1067.3,757.1 1070.3,758.6 1073.3,760.1 1076.3,761.6 1079.3,763.1 1082.3,764.7 1085.3,766.3 1088.3,767.9 1091.3,769.5 1094.3,771.1 1097.3,772.8 1100.3,774.4 1103.3,776.1 1106.3,777.9 1109.3,779.6 1112.3,781.4 1115.3,783.1 1118.3,784.9 1121.3,786.8 1124.4,788.6 1127.4,790.5 1130.4,792.4 1133.4,794.2 1136.4,796.2 1139.4,798.1 1142.4,800 1145.4,802 1148.4,804 1151.4,806.1 1154.4,808.2 1157.4,810.4 1160.4,812.5 1163.4,814.7 1166.4,816.8 1169.4,818.9 1172.4,821 1175.4,823.1 1178.4,825 1181.4,826.9 1184.4,828.8 1187.4,830.7 1190.5,832.6 1193.5,834.5 1196.5,836.5 1199.5,838.6 1202.5,840.8 1205.5,843.1 1208.5,845.4 1211.5,847.9 1214.5,850.3 1217.5,852.8 1220.5,855.4 1223.5,858 1226.5,860.5 1229.5,863.2 1232.5,865.8 1235.5,868.4 1238.5,870.9 1241.5,873.5 1244.5,876.2 1247.5,878.8 1250.5,881.5 1253.5,884.3 1256.6,887 1259.6,889.8 1262.6,892.5 1265.6,895.3 1268.6,898 1271.6,900.7 1274.6,903.3 1277.6,906 1280.6,908.5 1283.6,911 1286.6,913.5 1289.6,915.9 1292.6,918.2 1295.6,920.4 1298.6,922.6 1301.6,924.8 1304.6,926.9 1307.6,929 1310.6,931.1 1313.6,933.2 1316.6,935.3 1319.6,937.4 1322.7,939.5 1325.7,941.7 1328.7,943.9 1331.7,946.1 1334.7,948.4 1337.7,950.7 1340.7,953.2 1343.7,955.6 1346.7,958.2 1349.7,960.8 1352.7,963.4 1355.7,966 1358.7,968.7 1361.7,971.4 1364.7,974 1367.7,976.7 1370.7,979.5 1373.7,982.3 1376.7,985 1379.7,987.9 1382.7,990.7 1385.7,993.5 1388.8,996.3 1391.8,999.1 1394.8,1002 1397.8,1005.1 1400.8,1008.4 1403.8,1011.8 1406.8,1015.5 1409.8,1019.4 1412.8,1023.3 1415.8,1027.3 1418.8,1031.2 1421.8,1035.1 1424.8,1039.1 1427.8,1043.1 1430.8,1047.2 1433.8,1051.2 1436.8,1055.2 1439.8,1059.2 1442.8,1063.2 1445.8,1067.2 1448.8,1071.2 1451.8,1075.2 1454.9,1079.4 1457.9,1083.6 1460.9,1087.9 1463.9,1092.2 1466.9,1096.9 1469.9,1102 1472.9,1107.8 1475.9,1113.9 1478.9,1120.2 1481.9,1126.3 1484.9,1132.3 1487.9,1138.4 1490.9,1144.4 1493.9,1150.4 1496.9,1156.2 1499.9,1162 1502.9,1167.9 1505.9,1174.4 1508.9,1181.7 1511.9,1189.7 1514.9,1197.7 1517.9,1205.4 1521,1212.7 1524,1220.2 1527,1228.4 1530,1237.9 1533,1249.1 1536,1260.7 1539,1271.8 1542,1283 1545,1295.1 1548,1307.8 1551,1322.1 1554,1340" stroke="#0000FF"/>
<path d="M1614,1332 Q1624,1318 1634,1332" stroke="#0000FF"/>
<path d="M428.8,199.5L430.8,201.7 432.8,203.9 434.8,206.1 436.8,208.3 438.8,210.5 440.8,212.6 442.8,214.8 444.8,216.9 446.8,219.1 448.8,221.2 450.8,223.4 452.8,225.5 454.8,227.7 456.8,229.8 458.8,231.9 460.8,234 462.8,236.2 464.8,238.3 466.8,240.4 468.8,242.5 470.8,244.7 472.8,246.8 474.8,248.9 476.8,251 478.8,253.2 480.8,255.3 482.8,257.4 484.8,259.6 486.8,261.7 488.8,263.9 490.8,266 492.8,268.1 494.8,270.3 496.8,272.4 498.8,274.5 500.8,276.7 502.8,278.8 504.8,280.9 506.8,283 508.8,285.2 510.8,287.3 512.8,289.4 514.8,291.5 516.8,293.6 518.8,295.7 520.8,297.8 522.8,299.9 524.8,302 526.8,304.1 528.8,306.1 530.8,308.2 532.8,310.3 534.9,312.4 536.9,314.5 538.9,316.6 540.9,318.6 542.9,320.7 544.9,322.8 546.9,324.9 548.9,326.9 550.9,329 552.9,331.1 554.9,333.2 556.9,335.2 558.9,337.3 560.9,339.4 562.9,341.5 564.9,343.5 566.9,345.5 568.9,347.6 570.9,349.6 572.9,351.6 574.9,353.6 576.9,355.6 578.9,357.6 580.9,359.7 582.9,361.7 584.9,363.8 586.9,365.8 588.9,367.9 590.9,370 592.9,372.1 594.9,374.3 596.9,376.5 598.9,378.7 600.9,380.9 602.9,383.2 604.9,385.6 606.9,388 608.9,390.4 610.9,392.8 612.9,395.3 614.9,397.7 616.9,400.2 618.9,402.6 620.9,405 622.9,407.3 624.9,409.6 626.9,411.9 628.9,414.2 630.9,416.5 632.9,419 634.9,421.6 636.9,424.3 638.9,427.3 640.9,430.5 642.9,433.8 644.9,437.1 646.9,440.3 648.9,443.5 650.9,446.4 652.9,449.3 654.9,452 656.9,454.7 658.9,457.4 660.9,460.1 662.9,462.8 664.9,465.6 666.9,468.4 668.9,471.4 670.9,474.4 672.9,477.5 674.9,480.7 676.9,483.9 678.9,487.2 680.9,490.5 682.9,493.7 684.9,497 686.9,500.2 688.9,503.3 690.9,506.4 692.9,509.5 694.9,512.6 696.9,515.7 698.9,518.7 700.9,521.7 702.9,524.6 704.9,527.4 706.9,530.2 708.9,533 710.9,535.7 712.9,538.4 714.9,541 716.9,543.6 718.9,546.1 720.9,548.6 722.9,551 724.9,553.3 726.9,555.7 728.9,558 730.9,560.3 732.9,562.6 734.9,565 736.9,567.4 738.9,569.9 740.9,572.4 743,574.9 745,577.4 747,579.9 749,582.4 751,584.8 753,587.1 755,589.5 757,591.8 759,594 761,596.3 763,598.5 765,600.8 767,602.9 769,605.1 771,607.1 773,609.2 775,611.2 777,613.1 779,615 781,616.8 783,618.6 785,620.4 787,622.1 789,623.9 791,625.6 793,627.3 795,629 797,630.7 799,632.4 801,634.2 803,635.9 805,637.6 807,639.3 809,641 811,642.7 813,644.4 815,646 817,647.6 819,649.2 821,650.7 823,652.2 825,653.8 827,655.3 829,656.8 831,658.3 833,659.8 835,661.1 837,662.5 839,663.7 841,664.8 843,665.8 845,666.8 847,667.6 849,668.4 851,669.2 853,669.9 855,670.7 857,671.4 859,672.2 861,673 863,673.9 865,674.8 867,675.8 869,676.9 871,678 873,679.1 875,680.2 877,681.2 879,682.3 881,683.2 883,684.1 885,684.9 887,685.6 889,686.3 891,687 893,687.6 895,688.2 897,688.7 899,689.1 901,689.5 903,689.8 905,690.1 907,690.3 909,690.6 911,690.9 913,691.2 915,691.7 917,692.5 919,693.8 921,695.3 923,696.9 925,698.5 927,699.9 929,701 931,701.8 933,702.4 935,703 937,703.5 939,703.9 941,704.3 943,704.7 945,705.1 947,705.4 949,705.6 951,705.8 953.1,706.1 955.1,706.3 957.1,706.5 959.1,706.8 961.1,707.2 963.1,707.7 965.1,708.2 967.1,708.9 969.1,709.6 971.1,710.4 973.1,711.2 975.1,712.1 977.1,713 979.1,713.9 981.1,714.9 983.1,715.9 985.1,716.9 987.1,717.9 989.1,718.9 991.1,719.8 993.1,720.8 995.1,721.7 997.1,722.6 999.1,723.4 1001.1,724.3 1003.1,725.1 1005.1,726 1007.1,726.8 1009.1,727.7 1011.1,728.5 1013.1,729.3 1015.1,730.2 1017.1,731 1019.1,731.9 1021.1,732.7 1023.1,733.6 1025.1,734.4 1027.1,735.3 1029.1,736.2 1031.1,737 1033.1,737.9 1035.1,738.8 1037.1,739.7 1039.1,740.6 1041.1,741.5 1043.1,742.4 1045.1,743.3 1047.1,744.2 1049.1,745.2 1051.1,746.1 1053.1,747.1 1055.1,748.1 1057.1,749 1059.1,750 1061.1,751 1063.1,752 1065.1,753 1067.1,754 1069.1,755 1071.1,756 1073.1,757.1 1075.1,758.1 1077.1,759.1 1079.1,760.1 1081.1,761.2 1083.1,762.2 1085.1,763.2 1087.1,764.2 1089.1,765.3 1091.1,766.3 1093.1,767.3 1095.1,768.3 1097.1,769.3 1099.1,770.3 1101.1,771.3 1103.1,772.3 1105.1,773.3 1107.1,774.3 1109.1,775.2 1111.1,776.2 1113.1,777.2 1115.1,778.2 1117.1,779.2 1119.1,780.2 1121.1,781.2 1123.1,782.2 1125.1,783.2 1127.1,784.2 1129.1,785.3 1131.1,786.4 1133.1,787.4 1135.1,788.6 1137.1,789.7 1139.1,790.8 1141.1,792 1143.1,793.2 1145.1,794.5 1147.1,795.8 1149.1,797.1 1151.1,798.5 1153.1,799.9 1155.1,801.4 1157.1,802.8 1159.1,804.3 1161.2,805.8 1163.2,807.3 1165.2,808.8 1167.2,810.3 1169.2,811.8 1171.2,813.2 1173.2,814.6 1175.2,816 1177.2,817.3 1179.2,818.6 1181.2,819.9 1183.2,821.2 1185.2,822.4 1187.2,823.7 1189.2,824.9 1191.2,826.2 1193.2,827.5 1195.2,828.8 1197.2,830.1 1199.2,831.4 1201.2,832.8 1203.2,834.2 1205.2,835.6 1207.2,837.1 1209.2,838.5 1211.2,840 1213.2,841.5 1215.2,842.9 1217.2,844.4 1219.2,846 1221.2,847.5 1223.2,849 1225.2,850.5 1227.2,852.1 1229.2,853.6 1231.2,855.2 1233.2,856.8 1235.2,858.3 1237.2,859.9 1239.2,861.5 1241.2,863.1 1243.2,864.7 1245.2,866.3 1247.2,868 1249.2,869.6 1251.2,871.3 1253.2,873 1255.2,874.7 1257.2,876.4 1259.2,878.1 1261.2,879.8 1263.2,881.5 1265.2,883.2 1267.2,884.9 1269.2,886.6 1271.2,888.3 1273.2,890 1275.2,891.6 1277.2,893.2 1279.2,894.8 1281.2,896.4 1283.2,898 1285.2,899.5 1287.2,901 1289.2,902.4 1291.2,903.9 1293.2,905.3 1295.2,906.7 1297.2,908 1299.2,909.4 1301.2,910.7 1303.2,912 1305.2,913.3 1307.2,914.6 1309.2,915.9 1311.2,917.2 1313.2,918.5 1315.2,919.8 1317.2,921.1 1319.2,922.3 1321.2,923.6 1323.2,924.9 1325.2,926.2 1327.2,927.6 1329.2,928.9 1331.2,930.2 1333.2,931.6 1335.2,933 1337.2,934.4 1339.2,935.8 1341.2,937.2 1343.2,938.6 1345.2,940 1347.2,941.5 1349.2,942.9 1351.2,944.4 1353.2,945.8 1355.2,947.3 1357.2,948.8 1359.2,950.2 1361.2,951.7 1363.2,953.2 1365.2,954.7 1367.2,956.1 1369.3,957.6 1371.3,959.1 1373.3,960.6 1375.3,962.1 1377.3,963.6 1379.3,965.1 1381.3,966.6 1383.3,968.1 1385.3,969.6 1387.3,971.1 1389.3,972.6 1391.3,974.1 1393.3,975.6 1395.3,977.1 1397.3,978.6 1399.3,980.1 1401.3,981.6 1403.3,983.1 1405.3,984.6 1407.3,986.1 1409.3,987.6 1411.3,989.2 1413.3,990.7 1415.3,992.2 1417.3,993.8 1419.3,995.3 1421.3,996.9 1423.3,998.5 1425.3,1000.1 1427.3,1001.7 1429.3,1003.3 1431.3,1004.9 1433.3,1006.6 1435.3,1008.3 1437.3,1010 1439.3,1011.7 1441.3,1013.4 1443.3,1015.2 1445.3,1017 1447.3,1018.8 1449.3,1020.6 1451.3,1022.4 1453.3,1024.2 1455.3,1026 1457.3,1027.8 1459.3,1029.6 1461.3,1031.4 1463.3,1033.2 1465.3,1035 1467.3,1036.8 1469.3,1038.6 1471.3,1040.3 1473.3,1042.1 1475.3,1043.9 1477.3,1045.6 1479.3,1047.4 1481.3,1049.2 1483.3,1051 1485.3,1052.7 1487.3,1054.5 1489.3,1056.2 1491.3,1058 1493.3,1059.7 1495.3,1061.5 1497.3,1063.2 1499.3,1064.9 1501.3,1066.6 1503.3,1068.3 1505.3,1070 1507.3,1071.7 1509.3,1073.4 1511.3,1075.1 1513.3,1076.8 1515.3,1078.5 1517.3,1080.2 1519.3,1081.9 1521.3,1083.6 1523.3,1085.3 1525.3,1086.9 1527.3,1088.6 1529.3,1090.2 1531.3,1091.8 1533.3,1093.5 1535.3,1095 1537.3,1096.6 1539.3,1098.2 1541.3,1099.7 1543.3,1101.2 1545.3,1102.7 1547.3,1104.1 1549.3,1105.6 1551.3,1107 1553.3,1108.4 1555.3,1109.9 1557.3,1111.3 1559.3,1112.7 1561.3,1114.1 1563.3,1115.4 1565.3,1116.8 1567.3,1118.1 1569.3,1119.4 1571.3,1120.7 1573.3,1122 1575.3,1123.2 1577.3,1124.4 1579.4,1125.6 1581.4,1126.7 1583.4,1127.8 1585.4,1128.9 1587.4,1129.9 1589.4,1130.9 1591.4,1131.9 1593.4,1132.9 1595.4,1133.8 1597.4,1134.7 1599.4,1135.6 1601.4,1136.4 1603.4,1137.3 1605.4,1138.1 1607.4,1139 1609.4,1139.8 1611.4,1140.7 1613.4,1141.5 1615.4,1142.4 1617.4,1143.3 1619.4,1144.1 1621.4,1145 1623.4,1146 1625.4,1146.9 1627.4,1147.9 1629.4,1148.8 1631.4,1149.8 1633.4,1150.8 1635.4,1151.8 1637.4,1152.8 1639.4,1153.8 1641.4,1154.8 1643.4,1155.7 1645.4,1156.7 1647.4,1157.7 1649.4,1158.7 1651.4,1159.7 1653.4,1160.7 1655.4,1161.6 1657.4,1162.6 1659.4,1163.5 1661.4,1164.4 1663.4,1165.3 1665.4,1166.2 1667.4,1167.1 1669.4,1168 1671.4,1168.9 1673.4,1169.8 1675.4,1170.7 1677.4,1171.5 1679.4,1172.4 1681.4,1173.3 1683.4,1174.1 1685.4,1175 1687.4,1175.8 1689.4,1176.7 1691.4,1177.5 1693.4,1178.4 1695.4,1179.2 1697.4,1180 1699.4,1180.9 1701.4,1181.7 1703.4,1182.5 1705.4,1183.3 1707.4,1184.1 1709.4,1184.9 1711.4,1185.7 1713.4,1186.5 1715.4,1187.3 1717.4,1188.1 1719.4,1188.9 1721.4,1189.7 1723.4,1190.5 1725.4,1191.2 1727.4,1192 1729.4,1192.7 1731.4,1193.5 1733.4,1194.2 1735.4,1195 1737.4,1195.7 1739.4,1196.5 1741.4,1197.2 1743.4,1197.9 1745.4,1198.7 1747.4,1199.4 1749.4,1200.1 1751.4,1200.9 1753.4,1201.6 1755.4,1202.3 1757.4,1203.1 1759.4,1203.8 1761.4,1204.6 1763.4,1205.3 1765.4,1206.1 1767.4,1206.9 1769.4,1207.6 1771.4,1208.4 1773.4,1209.2 1775.4,1210 1777.4,1210.7 1779.4,1211.5 1781.4,1212.3 1783.4,1213.1 1785.4,1213.9 1787.5,1214.6 1789.5,1215.4 1791.5,1216.2 1793.5,1217 1795.5,1217.8 1797.5,1218.6 1799.5,1219.4 1801.5,1220.2 1803.5,1221 1805.5,1221.8 1807.5,1222.6 1809.5,1223.4 1811.5,1224.2 1813.5,1225 1815.5,1225.9 1817.5,1226.7 1819.5,1227.5 1821.5,1228.4 1823.5,1229.2 1825.5,1230.1 1827.5,1230.9 1829.5,1231.8 1831.5,1232.6 1833.5,1233.5 1835.5,1234.4 1837.5,1235.3 1839.5,1236.2 1841.5,1237.1 1843.5,1238 1845.5,1238.9 1847.5,1239.8 1849.5,1240.7 1851.5,1241.6 1853.5,1242.6 1855.5,1243.5 1857.5,1244.4 1859.5,1245.3 1861.5,1246.2 1863.5,1247.2 1865.5,1248.1 1867.5,1249 1869.5,1250 1871.5,1250.9 1873.5,1251.8 1875.5,1252.8 1877.5,1253.7 1879.5,1254.7 1881.5,1255.6 1883.5,1256.6 1885.5,1257.5 1887.5,1258.5 1889.5,1259.4 1891.5,1260.4" stroke="#FF0000"/>
</g>
<path d="M289.5 58V1351.3M288 1328.8H1956.6M278.5 1328.6H289.5M278.5 1310H289.5M278.5 1295.5H289.5M278.5 1283.7H289.5M278.5 1273.8H289.5M278.5 1265.1H289.5M278.5 1257.5H289.5M266.5 1250.7H289.5M278.5 1205.9H289.5M278.5 1179.7H289.5M278.5 1161.1H289.5M278.5 1146.6H289.5M278.5 1134.8H289.5M278.5 1124.9H289.5M278.5 1116.2H289.5M278.5 1108.6H289.5M266.5 1101.8H289.5M278.5 1057H289.5M278.5 1030.8H289.5M278.5 1012.2H289.5M278.5 997.7H289.5M278.5 985.9H289.5M278.5 976H289.5M278.5 967.3H289.5M278.5 959.7H289.5M266.5 952.9H289.5M278.5 908.1H289.5M278.5 881.9H289.5M278.5 863.3H289.5M278.5 848.8H289.5M278.5 837H289.5M278.5 827.1H289.5M278.5 818.4H289.5M278.5 810.8H289.5M266.5 804H289.5M278.5 759.2H289.5M278.5 733H289.5M278.5 714.4H289.5M278.5 699.9H289.5M278.5 688.1H289.5M278.5 678.2H289.5M278.5 669.5H289.5M278.5 661.9H289.5M266.5 655.1H289.5M278.5 610.3H289.5M278.5 584.1H289.5M278.5 565.5H289.5M278.5 551H289.5M278.5 539.2H289.5M278.5 529.3H289.5M278.5 520.6H289.5M278.5 513H289.5M266.5 506.2H289.5M278.5 461.4H289.5M278.5 435.2H289.5M278.5 416.6H289.5M278.5 402.1H289.5M278.5 390.3H289.5M278.5 380.4H289.5M278.5 371.7H289.5M278.5 364.1H289.5M266.5 357.3H289.5M278.5 312.5H289.5M278.5 286.3H289.5M278.5 267.7H289.5M278.5 253.2H289.5M278.5 241.4H289.5M278.5 231.5H289.5M278.5 222.8H289.5M278.5 215.2H289.5M266.5 208.4H289.5M278.5 163.6H289.5M278.5 137.4H289.5M278.5 118.8H289.5M278.5 104.3H289.5M278.5 92.5H289.5M278.5 82.6H289.5M278.5 73.9H289.5M278.5 66.3H289.5M266.5 59.5H289.5M289.4 1328.8V1350.8M419.8 1328.8V1339.8M496.1 1328.8V1339.8M550.2 1328.8V1339.8M592.2 1328.8V1339.8M626.5 1328.8V1339.8M655.5 1328.8V1339.8M680.6 1328.8V1339.8M702.8 1328.8V1339.8M722.6 1328.8V1350.8M853 1328.8V1339.8M929.3 1328.8V1339.8M983.4 1328.8V1339.8M1025.4 1328.8V1339.8M1059.7 1328.8V1339.8M1088.7 1328.8V1339.8M1113.8 1328.8V1339.8M1136 1328.8V1339.8M1155.8 1328.8V1350.8M1286.2 1328.8V1339.8M1362.5 1328.8V1339.8M1416.6 1328.8V1339.8M1458.6 1328.8V1339.8M1492.9 1328.8V1339.8M1521.9 1328.8V1339.8M1547 1328.8V1339.8M1569.2 1328.8V1339.8M1589 1328.8V1350.8M1719.4 1328.8V1339.8M1795.7 1328.8V1339.8M1849.8 1328.8V1339.8M1891.8 1328.8V1339.8M1926.1 1328.8V1339.8M1955.1 1328.8V1339.8" fill="none" stroke="#000" stroke-width="3"/>
<text transform="translate(137.65,1274.42) scale(0.9242,1)" font-size="68.31" style="font-family:'Liberation Sans',sans-serif">10</text>
<text transform="translate(208.68,1246.90) scale(1.0079,1)" font-size="45.14" style="font-family:'Liberation Sans',sans-serif">-2</text>
<text transform="translate(137.65,1125.52) scale(0.9242,1)" font-size="68.31" style="font-family:'Liberation Sans',sans-serif">10</text>
<text transform="translate(208.95,1098.00) scale(0.8461,1)" font-size="45.80" style="font-family:'Liberation Sans',sans-serif">-1</text>
<text transform="translate(152.43,976.62) scale(0.9286,1)" font-size="68.31" style="font-family:'Liberation Sans',sans-serif">10</text>
<text transform="translate(224.76,948.67) scale(1.0000,1)" font-size="42.96" style="font-family:'Liberation Sans',sans-serif">0</text>
<text transform="translate(152.43,827.72) scale(0.9286,1)" font-size="68.31" style="font-family:'Liberation Sans',sans-serif">10</text>
<text transform="translate(224.56,800.20) scale(1.0000,1)" font-size="44.20" style="font-family:'Liberation Sans',sans-serif">1</text>
<text transform="translate(152.43,678.82) scale(0.9286,1)" font-size="68.31" style="font-family:'Liberation Sans',sans-serif">10</text>
<text transform="translate(224.88,651.30) scale(1.0000,1)" font-size="43.57" style="font-family:'Liberation Sans',sans-serif">2</text>
<text transform="translate(152.43,529.92) scale(0.9286,1)" font-size="68.31" style="font-family:'Liberation Sans',sans-serif">10</text>
<text transform="translate(225.19,501.97) scale(1.0000,1)" font-size="42.96" style="font-family:'Liberation Sans',sans-serif">3</text>
<text transform="translate(152.43,381.02) scale(0.9286,1)" font-size="68.31" style="font-family:'Liberation Sans',sans-serif">10</text>
<text transform="translate(223.33,353.95) scale(1.0000,1)" font-size="44.85" style="font-family:'Liberation Sans',sans-serif">4</text>
<text transform="translate(152.43,232.12) scale(0.9286,1)" font-size="68.31" style="font-family:'Liberation Sans',sans-serif">10</text>
<text transform="translate(224.88,204.16) scale(1.0000,1)" font-size="43.57" style="font-family:'Liberation Sans',sans-serif">5</text>
<text transform="translate(152.43,83.22) scale(0.9286,1)" font-size="68.31" style="font-family:'Liberation Sans',sans-serif">10</text>
<text transform="translate(225.19,55.27) scale(1.0000,1)" font-size="42.96" style="font-family:'Liberation Sans',sans-serif">6</text>
<text transform="translate(233.77,1430.60) scale(0.9219,1)" font-size="69.58" style="font-family:'Liberation Sans',sans-serif">10</text>
<text transform="translate(306.10,1402.88) scale(0.9390,1)" font-size="47.79" style="font-family:'Liberation Sans',sans-serif">-4</text>
<text transform="translate(666.97,1430.60) scale(0.9219,1)" font-size="69.58" style="font-family:'Liberation Sans',sans-serif">10</text>
<text transform="translate(739.32,1401.94) scale(0.9722,1)" font-size="45.77" style="font-family:'Liberation Sans',sans-serif">-3</text>
<text transform="translate(1100.17,1430.60) scale(0.9219,1)" font-size="69.58" style="font-family:'Liberation Sans',sans-serif">10</text>
<text transform="translate(1172.47,1402.40) scale(0.9827,1)" font-size="46.43" style="font-family:'Liberation Sans',sans-serif">-2</text>
<text transform="translate(1533.37,1430.60) scale(0.9219,1)" font-size="69.58" style="font-family:'Liberation Sans',sans-serif">10</text>
<text transform="translate(1605.92,1402.40) scale(0.8386,1)" font-size="47.10" style="font-family:'Liberation Sans',sans-serif">-1</text>
<text transform="translate(987.45,1563.50) scale(0.9997,1)" font-size="89.00" style="font-family:'Liberation Sans',sans-serif">Q</text>
<text transform="translate(1083.25,1562.83) scale(1.1504,1)" font-size="81.28" style="font-family:'Liberation Sans',sans-serif">[</text>
<text transform="translate(1113.30,1562.50) scale(1.0229,1)" font-size="86.21" style="font-family:'Liberation Sans',sans-serif">Å</text>
<text transform="translate(1172.10,1526.80) scale(0.8023,1)" font-size="62.32" style="font-family:'Liberation Sans',sans-serif">-1</text>
<text transform="translate(1229.30,1562.83) scale(1.1073,1)" font-size="81.28" style="font-family:'Liberation Sans',sans-serif">]</text>
<text transform="translate(103,942) rotate(-90) translate(-2.83,-0.76) scale(0.9635,1)" font-size="86.49" style="font-family:'Liberation Sans',sans-serif">d</text>
<text transform="translate(103,942) rotate(-90) translate(46.21,-1.20) scale(1.0669,1)" font-size="86.46" style="font-family:'Liberation Serif',serif">Σ</text>
<text transform="translate(103,942) rotate(-90) translate(100.30,0.10) scale(0.9252,1)" font-size="86.85" style="font-family:'Liberation Sans',sans-serif">/</text>
<text transform="translate(103,942) rotate(-90) translate(124.65,-0.76) scale(0.9687,1)" font-size="86.49" style="font-family:'Liberation Sans',sans-serif">d</text>
<text transform="translate(103,942) rotate(-90) translate(172.10,-0.20) scale(1.0811,1)" font-size="90.62" style="font-family:'Liberation Serif',serif">Ω</text>
<text transform="translate(103,942) rotate(-90) translate(269.38,-0.13) scale(1.0545,1)" font-size="82.98" style="font-family:'Liberation Sans',sans-serif">[</text>
<text transform="translate(103,942) rotate(-90) translate(299.07,-0.86) scale(0.9962,1)" font-size="86.18" style="font-family:'Liberation Sans',sans-serif">cm</text>
<text transform="translate(103,942) rotate(-90) translate(415.76,-38.20) scale(0.8145,1)" font-size="62.46" style="font-family:'Liberation Sans',sans-serif">-1</text>
<text transform="translate(103,942) rotate(-90) translate(472.93,-0.13) scale(1.0545,1)" font-size="82.98" style="font-family:'Liberation Sans',sans-serif">]</text>
<text transform="translate(432.40,103.49) scale(1.0106,1)" font-size="69.26" style="font-family:'Liberation Sans',sans-serif">R</text>
<text transform="translate(482.50,120.70) scale(0.9908,1)" font-size="42.84" style="font-family:'Liberation Sans',sans-serif">g</text>
<text transform="translate(525.36,107.62) scale(1.0617,1)" font-size="64.17" style="font-family:'Liberation Serif',serif">≈</text>
<text transform="translate(582.46,103.02) scale(0.9767,1)" font-size="67.61" style="font-family:'Liberation Sans',sans-serif">5000</text>
<text transform="translate(750.50,102.80) scale(0.9834,1)" font-size="65.17" style="font-family:'Liberation Sans',sans-serif">Å</text>
<text transform="translate(844.25,399.80) scale(0.9390,1)" font-size="71.16" style="font-family:'Liberation Sans',sans-serif">L</text>
<text transform="translate(900.02,404.21) scale(1.0172,1)" font-size="64.72" style="font-family:'Liberation Serif',serif">≈</text>
<text transform="translate(957.11,399.80) scale(0.9236,1)" font-size="70.14" style="font-family:'Liberation Sans',sans-serif">500</text>
<text transform="translate(1087.20,399.80) scale(0.9739,1)" font-size="66.90" style="font-family:'Liberation Sans',sans-serif">Å</text>
<text transform="translate(1116.80,538.00) scale(0.9722,1)" font-size="64.72" style="font-family:'Liberation Sans',sans-serif">w</text>
<text transform="translate(1183.00,543.01) scale(1.0300,1)" font-size="64.72" style="font-family:'Liberation Serif',serif">≈</text>
<text transform="translate(1238.18,538.12) scale(0.9739,1)" font-size="68.17" style="font-family:'Liberation Sans',sans-serif">200</text>
<text transform="translate(1370.10,538.00) scale(1.0129,1)" font-size="65.52" style="font-family:'Liberation Sans',sans-serif">Å</text>
<text transform="translate(1391.87,726.39) scale(0.8629,1)" font-size="71.38" style="font-family:'Liberation Sans',sans-serif">t</text>
<text transform="translate(1428.45,723.77) scale(1.0452,1)" font-size="62.19" style="font-family:'Liberation Sans',sans-serif">=</text>
<text transform="translate(1487.89,726.41) scale(0.9487,1)" font-size="68.87" style="font-family:'Liberation Sans',sans-serif">35</text>
<text transform="translate(1581.60,727.10) scale(0.9715,1)" font-size="66.44" style="font-family:'Liberation Sans',sans-serif">Å</text>
<path d="M563.7 151.5V288.4M547.7 249.4L563.7 290.4L579.7 249.4M991.6 427.8V613.4M975.6 574.4L991.6 615.4L1007.6 574.4M1190 567.7V752M1174 713L1190 754L1206 713M1465.9 766.2V952.3M1449.9 913.3L1465.9 954.3L1481.9 913.3" fill="none" stroke="#000" stroke-width="4.5" stroke-linejoin="miter" stroke-miterlimit="10"/>
</svg></body></html>
